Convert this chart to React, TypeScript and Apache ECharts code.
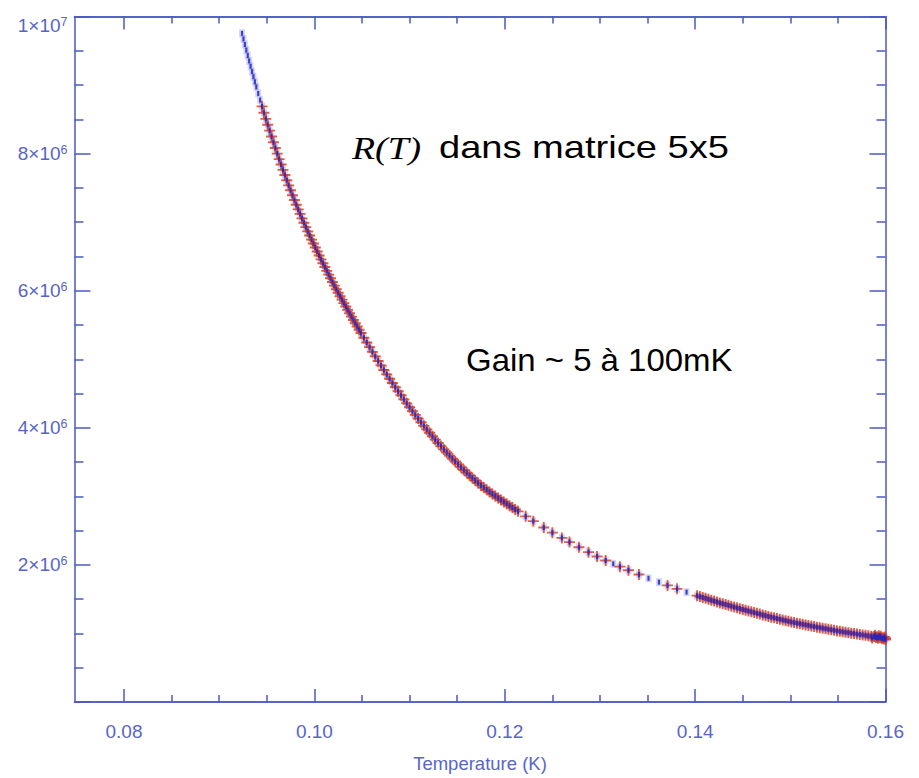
import React, { useEffect, useRef } from "react";
import * as echarts from "echarts";

// ---- axis ticks / labels ----
const X_MIN = 0.0748;
const X_MAX = 0.16;
const xMajorTicks = [0.08, 0.1, 0.12, 0.14, 0.16];
const xMinorTicks = [0.085, 0.09, 0.095, 0.105, 0.11, 0.115, 0.125, 0.13, 0.135, 0.145, 0.15, 0.155];
const yTickValues = [2e6, 4e6, 6e6, 8e6, 1e7];
const yTickMantissa = ["2", "4", "6", "8", "1"];
const yTickExponent = ["6", "6", "6", "6", "7"];

// ---- data (T in K, R in MOhm) ----
// blue-only points at the top of the curve
const blueTopT = [0.0924, 0.09255, 0.0927, 0.09285, 0.093, 0.09315, 0.0933, 0.09345, 0.0936, 0.09375, 0.0939, 0.0941, 0.0943];
const blueTopR = [9.755, 9.673, 9.591, 9.51, 9.43, 9.352, 9.274, 9.197, 9.122, 9.047, 8.973, 8.877, 8.781];

// steep part, both curves
const steepT = [
  0.0945, 0.0947, 0.0949, 0.0951, 0.0953, 0.0955, 0.0957, 0.0959, 0.0961,
  0.0963, 0.0965, 0.0967, 0.0969, 0.0971, 0.0973, 0.0975, 0.0977, 0.0979, 0.0981,
  0.0983, 0.0985, 0.0987, 0.0989, 0.0991, 0.0993, 0.0995, 0.0997, 0.0999, 0.1001,
  0.1003, 0.1005, 0.1007, 0.1009, 0.1011, 0.1013, 0.1015, 0.1017, 0.1019, 0.1021,
  0.1023, 0.1025, 0.1027, 0.1029, 0.1031, 0.1033, 0.1035, 0.1037, 0.1039, 0.1041,
  0.1043, 0.1045, 0.1047, 0.1049,
];
const steepR = [
  8.688, 8.596, 8.506, 8.421, 8.335, 8.249, 8.165, 8.082, 8.0,
  7.92, 7.841, 7.763, 7.687, 7.611, 7.537, 7.465, 7.393, 7.323, 7.254,
  7.186, 7.12, 7.055, 6.991, 6.928, 6.866, 6.806, 6.746, 6.688, 6.63,
  6.572, 6.514, 6.457, 6.401, 6.345, 6.29, 6.235, 6.181, 6.127, 6.074,
  6.022, 5.97, 5.919, 5.869, 5.819, 5.769, 5.72, 5.671, 5.622, 5.573,
  5.525, 5.478, 5.43, 5.383,
];

// middle part, both curves
const midT = [
  0.1052, 0.1055, 0.1058, 0.1061, 0.1064, 0.1067, 0.107, 0.1073, 0.1076, 0.1079,
  0.1082, 0.1085, 0.1088, 0.1091, 0.1094, 0.1097, 0.11, 0.1103, 0.1106, 0.1109,
  0.1112, 0.1115, 0.1118, 0.1121, 0.1124, 0.1127, 0.113, 0.1133, 0.1136, 0.1139,
  0.1142, 0.1145, 0.1148, 0.1151, 0.1154, 0.1157, 0.116, 0.1163, 0.1166, 0.1169,
  0.1172, 0.1175, 0.1178, 0.1181, 0.1184, 0.1187, 0.119, 0.1193, 0.1196, 0.1199,
  0.1202, 0.1205, 0.1208, 0.1211, 0.1214,
];
const midR = [
  5.314, 5.245, 5.176, 5.108, 5.041, 4.975, 4.909, 4.844, 4.779, 4.716,
  4.654, 4.593, 4.533, 4.474, 4.415, 4.357, 4.3, 4.244, 4.189, 4.135,
  4.081, 4.029, 3.977, 3.927, 3.876, 3.827, 3.779, 3.732, 3.685, 3.64,
  3.595, 3.551, 3.508, 3.466, 3.425, 3.384, 3.345, 3.306, 3.268, 3.231,
  3.195, 3.16, 3.128, 3.096, 3.065, 3.035, 3.005, 2.976, 2.947, 2.919,
  2.892, 2.864, 2.836, 2.809, 2.781,
];

// sparse part, both curves
const sparseT = [0.1222, 0.123, 0.1241, 0.125, 0.126, 0.1268, 0.1278, 0.1288, 0.1297, 0.1306, 0.1321, 0.133, 0.1341, 0.1371, 0.1381];
const sparseR = [2.708, 2.638, 2.546, 2.47, 2.394, 2.333, 2.258, 2.186, 2.122, 2.064, 1.974, 1.922, 1.86, 1.701, 1.651];

// blue-only points in the sparse part
const blueSparseT = [0.1314, 0.1351, 0.1362, 0.1391];
const blueSparseR = [2.016, 1.805, 1.748, 1.603];

// dense low part, both curves
const lowT = [
  0.1402, 0.1405, 0.1408, 0.1411, 0.1414, 0.1417, 0.142, 0.1423, 0.1426, 0.1429,
  0.1432, 0.1435, 0.1438, 0.1441, 0.1444, 0.1447, 0.145, 0.1453, 0.1456, 0.1459,
  0.1462, 0.1465, 0.1468, 0.1471, 0.1474, 0.1477, 0.148, 0.1483, 0.1486, 0.1489,
  0.1492, 0.1495, 0.1498, 0.1501, 0.1504, 0.1507, 0.151, 0.1513, 0.1516, 0.1519,
  0.1522, 0.1525, 0.1528, 0.1531, 0.1534, 0.1537, 0.154, 0.1543, 0.1546, 0.1549,
  0.1552, 0.1555, 0.1558, 0.1561, 0.1564, 0.1567, 0.157, 0.1573, 0.1576, 0.1579,
  0.1582, 0.1585, 0.1588, 0.1591, 0.1594, 0.1597, 0.16,
  0.1586, 0.1589, 0.159, 0.1592, 0.1593, 0.1595, 0.1596, 0.1598, 0.1599, 0.16,
];
const lowR = [
  1.551, 1.538, 1.525, 1.512, 1.498, 1.485, 1.472, 1.459, 1.446, 1.434,
  1.422, 1.41, 1.398, 1.386, 1.374, 1.362, 1.35, 1.339, 1.327, 1.316,
  1.304, 1.293, 1.282, 1.27, 1.259, 1.248, 1.238, 1.228, 1.218, 1.207,
  1.197, 1.187, 1.177, 1.167, 1.159, 1.15, 1.142, 1.134, 1.125, 1.117,
  1.108, 1.1, 1.092, 1.084, 1.077, 1.069, 1.061, 1.053, 1.045, 1.037,
  1.031, 1.024, 1.017, 1.011, 1.004, 0.998, 0.991, 0.984, 0.978, 0.972,
  0.966, 0.96, 0.954, 0.948, 0.942, 0.936, 0.93,
  0.935, 0.975, 0.94, 0.93, 0.965, 0.96, 0.925, 0.918, 0.95, 0.912,
];

const AXIS_COLOR = "#4b58c6";
const LABEL_COLOR = "#5865c8";
const RED = "#d33a1c";
const BLUE = "#2224c4";
const BLUE_HALO = "#8a8ce6";
const PLUS = "path://M4.15,0H5.85V4.15H10V5.85H5.85V10H4.15V5.85H0V4.15H4.15Z";

function pairs(t: number[], r: number[]) {
  return t.map((v, i) => [v, r[i] * 1e6]);
}

export default function App() {
  const ref = useRef<HTMLDivElement>(null);

  useEffect(() => {
    if (!ref.current) return;
    const chart = echarts.init(ref.current, null, { renderer: "svg" });

    const sharedData = [
      ...pairs(steepT, steepR),
      ...pairs(midT, midR),
      ...pairs(sparseT, sparseR),
      ...pairs(lowT, lowR),
    ];
    const blueData = [...pairs(blueTopT, blueTopR), ...sharedData, ...pairs(blueSparseT, blueSparseR)];

    const lineStyle = { color: AXIS_COLOR, width: 1.5 };
    const xBase = {
      type: "value" as const,
      min: X_MIN,
      max: X_MAX,
      splitLine: { show: false },
      axisLine: { show: true, onZero: false, lineStyle },
    };
    const yBase = {
      type: "value" as const,
      min: 0,
      max: 1e7,
      interval: 2e6,
      splitLine: { show: false },
      minorSplitLine: { show: false },
      axisLine: { show: true, onZero: false, lineStyle },
      axisTick: { show: true, inside: true, length: 16, lineStyle },
      minorTick: { show: true, splitNumber: 4, length: 9, lineStyle },
    };
    const labelFont = { color: LABEL_COLOR, fontFamily: "Liberation Sans" };

    chart.setOption({
      animation: false,
      backgroundColor: "#ffffff",
      grid: { left: 74.5, right: 33.5, top: 13, bottom: 75, containLabel: false },
      xAxis: [
        {
          ...xBase,
          position: "bottom",
          axisTick: { show: true, inside: true, length: 13, customValues: xMajorTicks, lineStyle },
          axisLabel: {
            show: true,
            customValues: xMajorTicks,
            formatter: (v: number) => v.toFixed(2),
            ...labelFont,
            fontSize: 19,
            margin: 20,
          },
          name: "Temperature (K)",
          nameLocation: "middle",
          nameGap: 52,
          nameTextStyle: { ...labelFont, fontSize: 18.5 },
        },
        {
          ...xBase,
          position: "bottom",
          axisTick: { show: true, inside: true, length: 7, customValues: xMinorTicks, lineStyle },
          axisLabel: { show: false },
        },
        {
          ...xBase,
          position: "top",
          axisTick: { show: true, inside: true, length: 13, customValues: xMajorTicks, lineStyle },
          axisLabel: { show: false },
        },
        {
          ...xBase,
          position: "top",
          axisTick: { show: true, inside: true, length: 7, customValues: xMinorTicks, lineStyle },
          axisLabel: { show: false },
        },
      ],
      yAxis: [
        {
          ...yBase,
          position: "left",
          axisLabel: {
            show: true,
            margin: 7,
            ...labelFont,
            formatter: (v: number) => {
              const i = yTickValues.indexOf(v);
              if (i < 0) return "";
              const s = `{a|${yTickMantissa[i]}×10}{b|${yTickExponent[i]}}`;
              return v === 1e7 ? `{e| }\n${s}` : s;
            },
            rich: {
              a: { ...labelFont, fontSize: 19, lineHeight: 21 },
              b: { ...labelFont, fontSize: 12.5, verticalAlign: "top", lineHeight: 12 },
              e: { ...labelFont, fontSize: 12, lineHeight: 18 },
            },
          },
        },
        {
          ...yBase,
          position: "right",
          axisLabel: { show: false },
        },
      ],
      series: [
        {
          type: "scatter",
          name: "blue halo",
          data: blueData,
          symbol: "rect",
          symbolSize: [6, 8],
          itemStyle: { color: BLUE_HALO, opacity: 0.35 },
          silent: true,
          z: 1,
        },
        {
          type: "scatter",
          name: "red",
          data: sharedData,
          symbol: PLUS,
          symbolSize: 11,
          itemStyle: { color: RED, opacity: 0.8 },
          silent: true,
          z: 2,
        },
        {
          type: "scatter",
          name: "blue",
          data: blueData,
          symbol: "rect",
          symbolSize: [2.2, 5],
          itemStyle: { color: BLUE, opacity: 0.85 },
          silent: true,
          z: 3,
        },
      ],
      graphic: [
        {
          type: "text",
          x: 352,
          y: 148,
          scaleX: 1.18,
          style: {
            text: "R(T)",
            fontFamily: "Liberation Serif",
            fontStyle: "italic",
            fontSize: 32,
            fill: "#000",
            verticalAlign: "middle",
            align: "left",
          },
        },
        {
          type: "text",
          x: 439,
          y: 147,
          scaleX: 1.19,
          style: {
            text: "dans matrice 5x5",
            fontFamily: "Liberation Sans",
            fontSize: 32,
            fill: "#000",
            verticalAlign: "middle",
            align: "left",
          },
        },
        {
          type: "text",
          x: 466,
          y: 360,
          scaleX: 1.03,
          style: {
            text: "Gain ~ 5 à 100mK",
            fontFamily: "Liberation Sans",
            fontSize: 32,
            fill: "#000",
            verticalAlign: "middle",
            align: "left",
          },
        },
      ],
    });

    return () => chart.dispose();
  }, []);

  return <div ref={ref} style={{ position: "absolute", left: 0, top: 0, width: 919, height: 778 }} />;
}
